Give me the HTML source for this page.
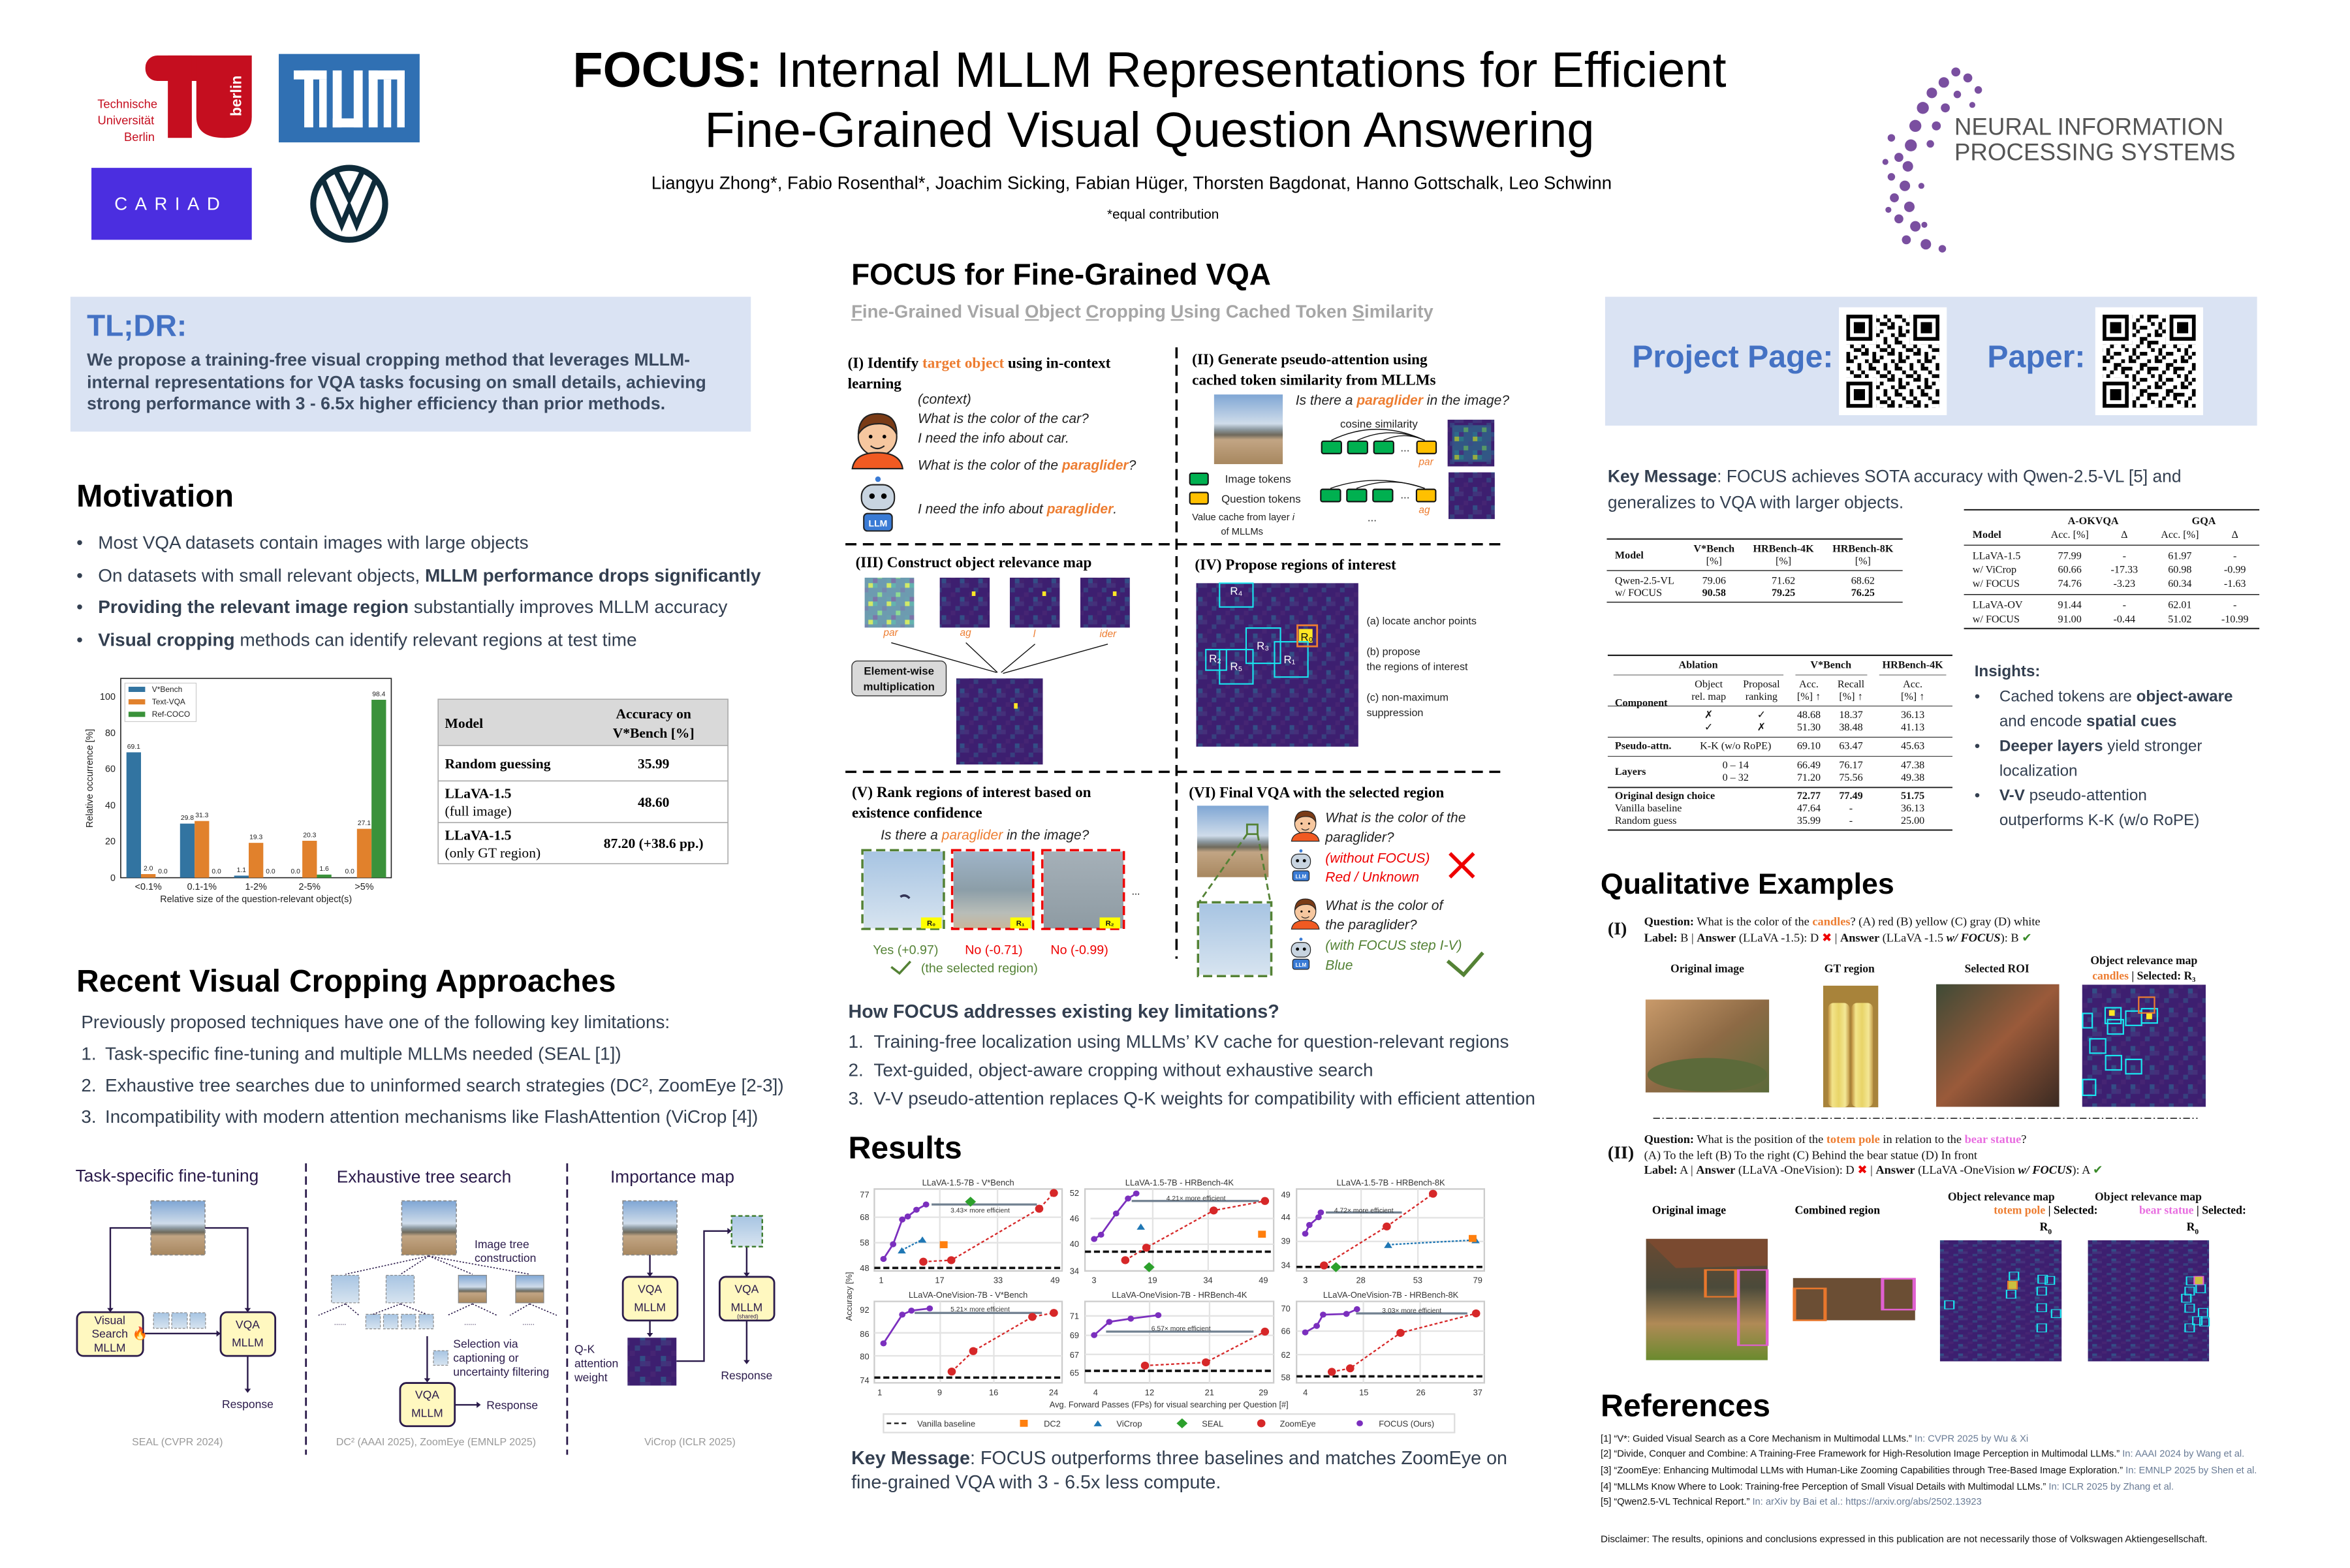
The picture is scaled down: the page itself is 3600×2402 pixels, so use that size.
<!DOCTYPE html>
<html><head><meta charset="utf-8">
<style>
html,body{margin:0;padding:0;background:#fff;}
body{width:3600px;height:2400px;overflow:hidden;position:relative;}
#r{position:absolute;left:0;top:0;width:1568px;height:1046px;transform:scale(2.2959);transform-origin:0 0;font-family:"Liberation Sans",Arial,sans-serif;}
.a{position:absolute;white-space:nowrap;}
.h{font-weight:bold;color:#000;font-size:21px;}
.t{font-size:12.4px;color:#333f50;}
.ser{font-family:"Liberation Serif",serif;}
</style></head><body><div id="r">

<svg width="0" height="0" style="position:absolute">
<defs>
<linearGradient id="beach" x1="0" y1="0" x2="0" y2="1">
<stop offset="0" stop-color="#7fa6d4"/><stop offset="0.42" stop-color="#cfdcea"/><stop offset="0.5" stop-color="#8d9aa2"/><stop offset="0.58" stop-color="#6f6a5c"/><stop offset="0.65" stop-color="#c2a584"/><stop offset="1" stop-color="#a7875f"/></linearGradient>
<linearGradient id="sky" x1="0" y1="0" x2="0" y2="1"><stop offset="0" stop-color="#a7c4e2"/><stop offset="1" stop-color="#d7e4f0"/></linearGradient>
<linearGradient id="sea" x1="0" y1="0" x2="0" y2="1"><stop offset="0" stop-color="#9fb4c8"/><stop offset="0.5" stop-color="#8c9ea8"/><stop offset="0.8" stop-color="#b8bdb8"/><stop offset="1" stop-color="#c8b79a"/></linearGradient>
<linearGradient id="sea2" x1="0" y1="0" x2="0" y2="1"><stop offset="0" stop-color="#a5b0b8"/><stop offset="1" stop-color="#8e9ba3"/></linearGradient>
<linearGradient id="warm" x1="0" y1="0" x2="1" y2="1"><stop offset="0" stop-color="#c99a6a"/><stop offset="0.5" stop-color="#8d6a45"/><stop offset="1" stop-color="#5b6a3a"/></linearGradient>
<linearGradient id="candle" x1="0" y1="0" x2="1" y2="0"><stop offset="0" stop-color="#b98a3a"/><stop offset="0.2" stop-color="#f3e48a"/><stop offset="0.5" stop-color="#e8d468"/><stop offset="0.8" stop-color="#f4e796"/><stop offset="1" stop-color="#c29a48"/></linearGradient>
<linearGradient id="roi" x1="0" y1="0" x2="1" y2="1"><stop offset="0" stop-color="#3e4a36"/><stop offset="0.5" stop-color="#9a5a3a"/><stop offset="1" stop-color="#3a2a22"/></linearGradient>
<linearGradient id="totem" x1="0" y1="0" x2="0" y2="1"><stop offset="0" stop-color="#6a4a32"/><stop offset="0.4" stop-color="#4b4a3a"/><stop offset="0.7" stop-color="#b08a56"/><stop offset="1" stop-color="#6a8a2e"/></linearGradient>
<pattern id="hm" patternUnits="userSpaceOnUse" width="40" height="40">
<rect width="40" height="40" fill="#3d1f70"/><rect x="0" y="0" width="10" height="10" fill="#45307a"/><rect x="20" y="10" width="10" height="10" fill="#37407f"/><rect x="10" y="20" width="10" height="10" fill="#462573"/><rect x="30" y="30" width="10" height="10" fill="#334d86"/><rect x="0" y="30" width="10" height="10" fill="#42226f"/><rect x="30" y="0" width="10" height="10" fill="#3f357c"/></pattern>
<pattern id="hm2" patternUnits="userSpaceOnUse" width="40" height="40">
<rect width="40" height="40" fill="#2d6f8e"/><rect x="0" y="0" width="10" height="10" fill="#21918c"/><rect x="20" y="10" width="10" height="10" fill="#3b528b"/><rect x="10" y="20" width="10" height="10" fill="#5ec962"/><rect x="30" y="30" width="10" height="10" fill="#2a788e"/><rect x="0" y="30" width="10" height="10" fill="#443983"/><rect x="30" y="0" width="10" height="10" fill="#bddf26"/></pattern>
<pattern id="qr" patternUnits="userSpaceOnUse" width="7" height="7">
<rect width="7" height="7" fill="#fff"/><path d="M0 0h1v1h-1zM2 0h2v1h-2zM5 1h1v2h-1zM1 2h2v1h-2zM3 3h1v1h-1zM0 4h1v2h-1zM4 4h2v1h-2zM2 5h1v2h-1zM6 5h1v1h-1zM4 6h1v1h-1zM1 1h1v1h-1zM6 3h1v1h-1z" fill="#000"/></pattern>
</defs></svg>

<!-- ===== HEADER ===== -->
<svg class="a" style="left:55px;top:30px" width="240" height="140" viewBox="55 30 240 140">
<rect x="97" y="37" width="48" height="17" rx="8" fill="#c50e1f"/>
<rect x="112" y="37" width="16" height="55" fill="#c50e1f"/>
<path d="M131 37 H168 V78 Q168 92 150 92 Q131 92 131 78 Z" fill="#c50e1f"/>
<text x="161" y="64" transform="rotate(-90 161 64)" text-anchor="middle" font-size="10" font-weight="bold" fill="#fff" font-family="Liberation Sans">berlin</text>
<text x="85" y="72" text-anchor="middle" font-size="8" fill="#c50e1f" font-family="Liberation Sans">Technische</text>
<text x="84" y="83" text-anchor="middle" font-size="8" fill="#c50e1f" font-family="Liberation Sans">Universität</text>
<text x="93" y="94" text-anchor="middle" font-size="8" fill="#c50e1f" font-family="Liberation Sans">Berlin</text>
<rect x="186" y="36" width="94" height="59" fill="#3070b3"/>
<g fill="#fff"><rect x="196" y="47" width="22" height="6"/><rect x="203" y="47" width="6" height="38"/><rect x="213" y="53" width="5" height="32"/>
<rect x="222" y="47" width="6" height="38"/><rect x="222" y="79" width="20" height="6"/><rect x="236" y="47" width="6" height="38"/>
<rect x="246" y="47" width="24" height="6"/><rect x="246" y="47" width="6" height="38"/><rect x="256" y="53" width="5" height="32"/><rect x="265" y="47" width="5" height="38"/></g>
<rect x="61" y="112" width="107" height="48" fill="#4b2ee0"/>
<text x="114" y="140" text-anchor="middle" font-size="12" fill="#fff" letter-spacing="5" font-family="Liberation Sans">CARIAD</text>
<circle cx="233" cy="136" r="24" fill="#fff" stroke="#0e2b3a" stroke-width="4"/>
<path d="M216 121 L228 150 L233 138 L238 150 L250 121 M224 114 L233 133 L242 114" fill="none" stroke="#0e2b3a" stroke-width="3.5"/>
</svg>
<div class="a" style="left:0;width:1534px;top:27px;text-align:center;font-size:33px;line-height:40px;color:#000;"><b>FOCUS:</b> Internal MLLM Representations for Efficient<br>Fine-Grained Visual Question Answering</div>
<div class="a" style="left:0;width:1510px;top:115px;text-align:center;font-size:12px;color:#000;">Liangyu Zhong*, Fabio Rosenthal*, Joachim Sicking, Fabian Hüger, Thorsten Bagdonat, Hanno Gottschalk, Leo Schwinn</div>
<div class="a" style="left:0;width:1552px;top:138px;text-align:center;font-size:9px;color:#000;">*equal contribution</div>
<svg class="a" style="left:1250px;top:40px" width="80" height="135" viewBox="1250 40 80 135">
<g fill="#7a4fa0">
<circle cx="1305" cy="48" r="3"/><circle cx="1313" cy="52" r="3"/><circle cx="1297" cy="55" r="3.5"/><circle cx="1320" cy="60" r="2.5"/><circle cx="1289" cy="62" r="3.5"/><circle cx="1306" cy="63" r="2.5"/><circle cx="1283" cy="72" r="4"/><circle cx="1298" cy="72" r="3"/><circle cx="1316" cy="70" r="2"/><circle cx="1278" cy="84" r="4"/><circle cx="1292" cy="84" r="3"/><circle cx="1275" cy="97" r="4"/><circle cx="1288" cy="96" r="2.5"/><circle cx="1267" cy="105" r="3"/><circle cx="1273" cy="111" r="3.5"/><circle cx="1262" cy="118" r="2.5"/><circle cx="1271" cy="124" r="3.5"/><circle cx="1264" cy="132" r="3"/><circle cx="1274" cy="138" r="3.5"/><circle cx="1267" cy="146" r="3"/><circle cx="1278" cy="151" r="3.5"/><circle cx="1272" cy="160" r="3"/><circle cx="1285" cy="163" r="3.5"/><circle cx="1296" cy="166" r="2.5"/><circle cx="1284" cy="150" r="2"/><circle cx="1262" cy="92" r="2.5"/><circle cx="1258" cy="108" r="2"/><circle cx="1282" cy="124" r="2"/><circle cx="1260" cy="140" r="2"/></g></svg>
<div class="a" style="left:1304px;top:77px;font-size:16px;line-height:17px;color:#555;">NEURAL INFORMATION<br>PROCESSING SYSTEMS</div>

<!-- ===== TL;DR ===== -->
<div class="a" style="left:47px;top:198px;width:454px;height:90px;background:#dae3f3;"></div>
<div class="a" style="left:58px;top:207px;font-size:20px;font-weight:bold;color:#4472c4;">TL;DR:</div>
<div class="a" style="left:58px;top:234px;font-size:11.6px;line-height:14.5px;font-weight:bold;color:#3b4a60;">We propose a training-free visual cropping method that leverages MLLM-<br>internal representations for VQA tasks focusing on small details, achieving<br>strong performance with 3 - 6.5x higher efficiency than prior methods.</div>

<!-- ===== MOTIVATION ===== -->
<div class="a h" style="left:51px;top:320px;">Motivation</div>
<div class="a t" style="left:51px;top:352px;line-height:21.6px;font-size:12.2px;">•&nbsp;&nbsp;&nbsp;Most VQA datasets contain images with large objects<br>•&nbsp;&nbsp;&nbsp;On datasets with small relevant objects, <b>MLLM performance drops significantly</b><br>•&nbsp;&nbsp;&nbsp;<b>Providing the relevant image region</b> substantially improves MLLM accuracy<br>•&nbsp;&nbsp;&nbsp;<b>Visual cropping</b> methods can identify relevant regions at test time</div>

<!-- ===== LEFT: chart + table + recent approaches (zoom3 coords) ===== -->
<svg class="a" style="left:0;top:435.6px" width="544.4" height="544.4" viewBox="0 0 1568 1568" font-family="Liberation Sans">
<rect x="232" y="48" width="520" height="383" fill="#fff" stroke="#222" stroke-width="2"/>
<g font-size="18" text-anchor="end" fill="#222"><text x="222" y="437">0</text><text x="222" y="367">20</text><text x="222" y="298">40</text><text x="222" y="228">60</text><text x="222" y="159">80</text><text x="222" y="89">100</text></g>
<g fill="#3274a1"><rect x="243" y="190" width="28" height="241"/><rect x="346" y="327" width="28" height="104"/><rect x="450" y="427" width="28" height="4"/></g>
<g fill="#e1812c"><rect x="271" y="424" width="28" height="7"/><rect x="374" y="322" width="28" height="109"/><rect x="478" y="364" width="28" height="67"/><rect x="581" y="360" width="28" height="71"/><rect x="686" y="337" width="28" height="94"/></g>
<g fill="#3a923a"><rect x="609" y="425" width="28" height="6"/><rect x="714" y="89" width="28" height="342"/></g>
<g font-size="13" text-anchor="middle" fill="#222"><text x="257" y="183">69.1</text><text x="285" y="417">2.0</text><text x="313" y="423">0.0</text><text x="360" y="320">29.8</text><text x="388" y="315">31.3</text><text x="416" y="423">0.0</text><text x="464" y="420">1.1</text><text x="492" y="357">19.3</text><text x="520" y="423">0.0</text><text x="568" y="423">0.0</text><text x="595" y="353">20.3</text><text x="623" y="418">1.6</text><text x="672" y="423">0.0</text><text x="700" y="330">27.1</text><text x="728" y="82">98.4</text></g>
<rect x="240" y="57" width="137" height="74" fill="#fff" stroke="#ccc" stroke-width="1.5"/>
<rect x="247" y="64" width="32" height="10" fill="#3274a1"/><rect x="247" y="88" width="32" height="10" fill="#e1812c"/><rect x="247" y="112" width="32" height="10" fill="#3a923a"/>
<g font-size="15" fill="#222"><text x="292" y="74">V*Bench</text><text x="292" y="98">Text-VQA</text><text x="292" y="122">Ref-COCO</text></g>
<g font-size="18" text-anchor="middle" fill="#222"><text x="285" y="454">&lt;0.1%</text><text x="388" y="454">0.1-1%</text><text x="492" y="454">1-2%</text><text x="595" y="454">2-5%</text><text x="700" y="454">&gt;5%</text>
<text x="492" y="478">Relative size of the question-relevant object(s)</text>
<text x="0" y="0" transform="translate(178 240) rotate(-90)">Relative occurrence [%]</text></g>
<!-- table -->
<rect x="842" y="88" width="557" height="89" fill="#d9d9d9"/>
<rect x="842" y="88" width="557" height="316" fill="none" stroke="#aaa" stroke-width="2"/>
<g stroke="#aaa" stroke-width="2"><line x1="842" y1="177" x2="1399" y2="177"/><line x1="842" y1="245" x2="1399" y2="245"/><line x1="842" y1="325" x2="1399" y2="325"/></g>
<g font-family="Liberation Serif" font-size="27" fill="#000">
<text x="855" y="143" font-weight="bold">Model</text>
<text x="1256" y="125" font-weight="bold" text-anchor="middle">Accuracy on</text><text x="1256" y="162" font-weight="bold" text-anchor="middle">V*Bench [%]</text>
<text x="855" y="221" font-weight="bold">Random guessing</text><text x="1256" y="221" font-weight="bold" text-anchor="middle">35.99</text>
<text x="855" y="278" font-weight="bold">LLaVA-1.5</text><text x="855" y="312">(full image)</text><text x="1256" y="295" font-weight="bold" text-anchor="middle">48.60</text>
<text x="855" y="358" font-weight="bold">LLaVA-1.5</text><text x="855" y="392">(only GT region)</text><text x="1256" y="374" font-weight="bold" text-anchor="middle">87.20 (+38.6 pp.)</text></g>
<!-- Recent approaches -->
<text x="147" y="650" font-size="60" font-weight="bold" fill="#000">Recent Visual Cropping Approaches</text>
<g font-size="35" fill="#333f50"><text x="156" y="720">Previously proposed techniques have one of the following key limitations:</text>
<text x="156" y="781">1.</text><text x="202" y="781">Task-specific fine-tuning and multiple MLLMs needed (SEAL [1])</text>
<text x="156" y="842">2.</text><text x="202" y="842">Exhaustive tree searches due to uninformed search strategies (DC², ZoomEye [2-3])</text>
<text x="156" y="902">3.</text><text x="202" y="902">Incompatibility with modern attention mechanisms like FlashAttention (ViCrop [4])</text></g>
<g stroke="#2a1a4a" stroke-width="3.5" stroke-dasharray="16 9"><line x1="588" y1="980" x2="588" y2="1540"/><line x1="1090" y1="980" x2="1090" y2="1540"/></g>
<g font-size="33" fill="#2a1a4a"><text x="145" y="1015">Task-specific fine-tuning</text><text x="647" y="1017">Exhaustive tree search</text><text x="1173" y="1017">Importance map</text></g>
<g fill="url(#beach)" stroke="#888" stroke-width="2" stroke-dasharray="6 4"><rect x="290" y="1052" width="104" height="104"/><rect x="772" y="1052" width="105" height="104"/><rect x="1197" y="1052" width="104" height="104"/></g>
<g stroke="#2a1a4a" stroke-width="3" fill="none"><path d="M290 1104 H212 V1260"/><path d="M394 1104 H476 V1260"/><path d="M275 1307 H418"/><path d="M476 1350 V1415"/><path d="M821 1312 V1395"/><path d="M874 1444 H918"/><path d="M1249 1156 V1192"/><path d="M1249 1282 V1308"/><path d="M1300 1360 H1353 V1110 H1400"/><path d="M1435 1140 V1192"/><path d="M1435 1282 V1360"/></g>
<g fill="#2a1a4a"><path d="M206 1258 L212 1266 L218 1258Z"/><path d="M470 1258 L476 1266 L482 1258Z"/><path d="M416 1301 L424 1307 L416 1313Z"/><path d="M470 1413 L476 1421 L482 1413Z"/><path d="M815 1393 L821 1401 L827 1393Z"/><path d="M916 1438 L924 1444 L916 1450Z"/><path d="M1243 1190 L1249 1198 L1255 1190Z"/><path d="M1243 1306 L1249 1314 L1255 1306Z"/><path d="M1398 1104 L1406 1110 L1398 1116Z"/><path d="M1429 1190 L1435 1198 L1441 1190Z"/><path d="M1429 1358 L1435 1366 L1441 1358Z"/></g>
<g fill="#fff8c0" stroke="#2a1a4a" stroke-width="3.5"><rect x="148" y="1266" width="127" height="84" rx="12"/><rect x="424" y="1266" width="105" height="84" rx="12"/><rect x="769" y="1402" width="105" height="83" rx="12"/><rect x="1197" y="1198" width="105" height="84" rx="12"/><rect x="1383" y="1198" width="105" height="84" rx="12"/></g>
<g font-size="22" fill="#2a1a4a" text-anchor="middle"><text x="211" y="1289">Visual</text><text x="211" y="1315">Search</text><text x="211" y="1342">MLLM</text><text x="476" y="1297">VQA</text><text x="476" y="1332">MLLM</text>
<text x="821" y="1432">VQA</text><text x="821" y="1467">MLLM</text><text x="1249" y="1229">VQA</text><text x="1249" y="1264">MLLM</text><text x="1435" y="1229">VQA</text><text x="1435" y="1264">MLLM</text><text x="1437" y="1278" font-size="11">(shared)</text>
<text x="476" y="1450">Response</text><text x="1435" y="1395">Response</text></g>
<g font-size="22" fill="#2a1a4a"><text x="935" y="1452">Response</text><text x="912" y="1143">Image tree</text><text x="912" y="1169">construction</text><text x="871" y="1334">Selection via</text><text x="871" y="1361">captioning or</text><text x="871" y="1388">uncertainty filtering</text><text x="1104" y="1344">Q-K</text><text x="1104" y="1372">attention</text><text x="1104" y="1399">weight</text></g>
<g fill="url(#sky)" stroke="#888" stroke-width="1.5" stroke-dasharray="5 3"><rect x="295" y="1267" width="30" height="30"/><rect x="330" y="1267" width="30" height="30"/><rect x="365" y="1267" width="30" height="30"/><rect x="637" y="1195" width="53" height="53"/><rect x="742" y="1195" width="54" height="53"/><rect x="703" y="1270" width="28" height="28"/><rect x="737" y="1270" width="28" height="28"/><rect x="771" y="1270" width="28" height="28"/><rect x="805" y="1270" width="28" height="28"/><rect x="833" y="1340" width="28" height="28"/></g>
<g fill="url(#beach)" stroke="#888" stroke-width="1.5"><rect x="881" y="1195" width="54" height="53"/><rect x="991" y="1195" width="54" height="53"/></g>
<rect x="1406" y="1081" width="59" height="59" fill="url(#sky)" stroke="#3a7a2a" stroke-width="3" stroke-dasharray="8 5"/>
<rect x="1206" y="1315" width="94" height="92" fill="url(#hm)"/>
<g stroke="#2a1a4a" stroke-width="2" stroke-dasharray="3 3" fill="none"><path d="M824 1158 L664 1193 M824 1158 L770 1193 M824 1158 L908 1193 M824 1158 L1018 1193 M664 1250 L612 1272 M664 1250 L690 1272 M770 1250 L717 1270 M770 1250 L820 1270 M908 1250 L860 1272 M908 1250 L955 1272 M1018 1250 L980 1272 M1018 1250 L1070 1272"/></g>
<g font-size="14" fill="#2a1a4a"><text x="642" y="1290">......</text><text x="892" y="1290">......</text><text x="1004" y="1290">......</text></g>
<g font-size="20" fill="#999" text-anchor="middle"><text x="341" y="1522">SEAL (CVPR 2024)</text><text x="838" y="1522">DC² (AAAI 2025), ZoomEye (EMNLP 2025)</text><text x="1326" y="1522">ViCrop (ICLR 2025)</text></g>
<g font-size="24" fill="#e8772c"><text x="254" y="1315">🔥</text></g>
</svg>

<!-- ===== MIDDLE ===== -->
<div class="a" style="left:568px;top:173px;font-size:20px;font-weight:bold;color:#000;">FOCUS for Fine-Grained VQA</div>
<div class="a" style="left:568px;top:201px;font-size:12px;font-weight:bold;color:#a6a6a6;"><u>F</u>ine-Grained Visual <u>O</u>bject <u>C</u>ropping <u>U</u>sing Cached Token <u>S</u>imilarity</div>

<svg class="a" style="left:557.5px;top:217.8px" width="479.1" height="479.1" viewBox="0 0 1568 1568" font-family="Liberation Sans">
<g stroke="#000" stroke-width="5" stroke-dasharray="24 14"><line x1="743" y1="45" x2="743" y2="1380"/><line x1="20" y1="475" x2="1450" y2="475"/><line x1="20" y1="972" x2="1450" y2="972"/></g>
<g font-family="Liberation Serif" font-weight="bold" font-size="33" fill="#000">
<text x="25" y="90">(I) Identify <tspan fill="#ed7d31">target object</tspan> using in-context</text><text x="25" y="135">learning</text>
<text x="777" y="82">(II) Generate pseudo-attention using</text><text x="777" y="127">cached token similarity from MLLMs</text>
<text x="42" y="525">(III) Construct object relevance map</text>
<text x="783" y="530">(IV) Propose regions of interest</text>
<text x="34" y="1027">(V) Rank regions of interest based on</text><text x="34" y="1072">existence confidence</text>
<text x="770" y="1028">(VI) Final VQA with the selected region</text></g>
<g font-size="30" font-style="italic" fill="#222">
<text x="178" y="168">(context)</text><text x="178" y="210">What is the color of the car?</text><text x="178" y="253">I need the info about car.</text>
<text x="178" y="312">What is the color of the <tspan fill="#ed7d31" font-weight="bold">paraglider</tspan>?</text>
<text x="178" y="408">I need the info about <tspan fill="#ed7d31" font-weight="bold">paraglider</tspan>.</text>
<text x="1003" y="170">Is there a <tspan fill="#ed7d31" font-weight="bold">paraglider</tspan> in the image?</text>
<text x="97" y="1120">Is there a <tspan fill="#ed7d31">paraglider</tspan> in the image?</text>
<text x="1068" y="1082">What is the color of the</text><text x="1068" y="1125">paraglider?</text>
<text x="1068" y="1170" fill="#e00">(without FOCUS)</text><text x="1068" y="1212" fill="#e00">Red / Unknown</text>
<text x="1068" y="1274">What is the color of</text><text x="1068" y="1316">the paraglider?</text>
<text x="1068" y="1361" fill="#548235">(with FOCUS step I-V)</text><text x="1068" y="1404" fill="#548235">Blue</text></g>
<!-- person/robot icons -->
<g id="person"><circle cx="90" cy="240" r="42" fill="#f6c79f" stroke="#222" stroke-width="3"/><path d="M48 235 Q50 190 90 190 Q132 190 132 235 Q120 210 90 212 Q62 212 48 235Z" fill="#7a3b16" stroke="#222" stroke-width="3"/><path d="M35 310 Q40 275 90 275 Q140 275 145 310Z" fill="#f15a22" stroke="#222" stroke-width="3"/><circle cx="75" cy="240" r="4"/><circle cx="105" cy="240" r="4"/><path d="M75 260 Q90 272 105 260" fill="none" stroke="#222" stroke-width="3"/></g>
<g id="robot"><rect x="55" y="345" width="72" height="55" rx="25" fill="#c8d4e0" stroke="#222" stroke-width="3"/><circle cx="91" cy="333" r="6" fill="#3a7bd5"/><circle cx="78" cy="370" r="6"/><circle cx="104" cy="370" r="6"/><rect x="60" y="408" width="62" height="38" rx="8" fill="#3a7bd5" stroke="#222" stroke-width="3"/><text x="91" y="436" font-size="20" font-weight="bold" fill="#fff" text-anchor="middle">LLM</text></g>
<use href="#person" transform="translate(994 1052) scale(0.55) translate(-35 -180)"/>
<use href="#person" transform="translate(994 1244) scale(0.55) translate(-35 -180)"/>
<use href="#robot" transform="translate(988 1140) scale(0.58) translate(-45 -325)"/>
<use href="#robot" transform="translate(988 1333) scale(0.58) translate(-45 -325)"/>
<!-- II -->
<rect x="825" y="148" width="150" height="152" fill="url(#beach)"/>
<g font-size="24" fill="#222"><text x="1185" y="220" text-anchor="middle">cosine similarity</text><text x="849" y="341">Image tokens</text><text x="841" y="384">Question tokens</text><text x="777" y="423" font-size="21">Value cache from layer <tspan font-style="italic">i</tspan></text><text x="840" y="454" font-size="21">of MLLMs</text><text x="1160" y="425">...</text><text x="1232" y="272">...</text><text x="1232" y="375">...</text></g>
<g fill="#00b050" stroke="#111" stroke-width="3"><rect x="1060" y="250" width="43" height="27" rx="4"/><rect x="1117" y="250" width="43" height="27" rx="4"/><rect x="1174" y="250" width="43" height="27" rx="4"/><rect x="1058" y="355" width="43" height="27" rx="4"/><rect x="1115" y="355" width="43" height="27" rx="4"/><rect x="1172" y="355" width="43" height="27" rx="4"/><rect x="772" y="320" width="40" height="25" rx="4"/></g>
<g fill="#ffc000" stroke="#111" stroke-width="3"><rect x="1268" y="250" width="42" height="27" rx="4"/><rect x="1267" y="355" width="42" height="27" rx="4"/><rect x="772" y="362" width="40" height="25" rx="4"/></g>
<g fill="none" stroke="#111" stroke-width="2"><path d="M1081 248 Q1180 200 1285 248"/><path d="M1138 248 Q1210 215 1285 248"/><path d="M1195 248 Q1240 228 1285 248"/><path d="M1079 353 Q1180 318 1285 353"/><path d="M1136 353 Q1210 325 1285 353"/></g>
<g font-size="22" font-style="italic" fill="#ed7d31"><text x="1272" y="302">par</text><text x="1272" y="407">ag</text><text x="103" y="675">par</text><text x="270" y="675">ag</text><text x="430" y="678">l</text><text x="575" y="678">ider</text></g>
<g fill="url(#hm)"><rect x="1335" y="203" width="102" height="102"/><rect x="1337" y="318" width="101" height="102"/><rect x="226" y="548" width="109" height="109"/><rect x="379" y="548" width="109" height="109"/><rect x="533" y="548" width="108" height="109"/><rect x="262" y="768" width="189" height="188"/><rect x="786" y="560" width="354" height="357"/></g>
<g fill="url(#hm2)" opacity="0.7"><rect x="1345" y="215" width="85" height="80"/><rect x="62" y="548" width="108" height="109"/></g>
<g fill="#fde725"><rect x="296" y="578" width="8" height="10"/><rect x="450" y="578" width="8" height="10"/><rect x="604" y="578" width="8" height="10"/><rect x="388" y="822" width="8" height="12"/><rect x="1010" y="660" width="30" height="30"/></g>
<g fill="none" stroke="#111" stroke-width="2"><path d="M120 690 L350 755 M283 690 L352 755 M434 693 L360 755 M593 693 L364 757"/></g>
<rect x="34" y="730" width="206" height="76" rx="12" fill="#d9d9d9" stroke="#333" stroke-width="2"/>
<g font-size="24" font-weight="bold" fill="#111" text-anchor="middle"><text x="137" y="760">Element-wise</text><text x="137" y="794">multiplication</text></g>
<!-- IV boxes -->
<g fill="none" stroke="#19e6f0" stroke-width="3"><rect x="837" y="560" width="73" height="52"/><rect x="895" y="658" width="75" height="77"/><rect x="957" y="688" width="73" height="77"/><rect x="807" y="705" width="45" height="45"/><rect x="837" y="705" width="73" height="75"/></g>
<rect x="1007" y="652" width="43" height="46" fill="none" stroke="#ed7d31" stroke-width="4"/>
<g font-size="24" fill="#fff"><text x="860" y="585">R₄</text><text x="918" y="705">R₃</text><text x="977" y="735">R₁</text><text x="814" y="733">R₂</text><text x="860" y="750">R₅</text><text x="1014" y="686" fill="#111">R₀</text></g>
<g font-size="23" fill="#222"><text x="1158" y="650">(a) locate anchor points</text><text x="1158" y="717">(b) propose</text><text x="1158" y="750">the regions of interest</text><text x="1158" y="817">(c) non-maximum</text><text x="1158" y="850">suppression</text></g>
<!-- V -->
<rect x="60" y="1146" width="175" height="168" fill="url(#sky)"/>
<rect x="256" y="1146" width="174" height="168" fill="url(#sea)"/>
<rect x="453" y="1146" width="174" height="168" fill="url(#sea2)"/>
<rect x="57" y="1143" width="178" height="172" fill="none" stroke="#548235" stroke-width="5" stroke-dasharray="20 10"/>
<rect x="253" y="1143" width="177" height="172" fill="none" stroke="#e00" stroke-width="5" stroke-dasharray="20 10"/>
<rect x="450" y="1143" width="178" height="172" fill="none" stroke="#e00" stroke-width="5" stroke-dasharray="20 10"/>
<g fill="#ff0"><rect x="185" y="1290" width="45" height="24"/><rect x="380" y="1290" width="45" height="24"/><rect x="575" y="1290" width="45" height="24"/></g>
<g font-size="16" font-weight="bold" fill="#111"><text x="198" y="1308">R₀</text><text x="393" y="1308">R₁</text><text x="588" y="1308">R₂</text></g>
<path d="M140 1245 Q150 1238 160 1248" stroke="#335" stroke-width="5" fill="none"/>
<text x="645" y="1240" font-size="22">...</text>
<g font-size="28"><text x="80" y="1370" fill="#548235">Yes (+0.97)</text><text x="281" y="1370" fill="#e00">No (-0.71)</text><text x="468" y="1370" fill="#e00">No (-0.99)</text><text x="185" y="1410" fill="#548235">(the selected region)</text></g>
<path d="M120 1398 L138 1412 L162 1386" stroke="#548235" stroke-width="5" fill="none"/>
<!-- VI -->
<rect x="788" y="1046" width="156" height="156" fill="url(#beach)"/>
<rect x="897" y="1087" width="23" height="21" fill="none" stroke="#548235" stroke-width="4"/>
<g stroke="#548235" stroke-width="4" stroke-dasharray="14 8"><line x1="897" y1="1108" x2="792" y2="1257"/><line x1="920" y1="1108" x2="948" y2="1257"/></g>
<rect x="793" y="1260" width="155" height="155" fill="url(#sky)"/>
<rect x="790" y="1257" width="160" height="161" fill="none" stroke="#548235" stroke-width="5" stroke-dasharray="20 10"/>
<path d="M1340 1150 L1392 1202 M1392 1150 L1340 1202" stroke="#e00" stroke-width="8"/>
<path d="M1335 1385 L1370 1415 L1412 1367" stroke="#548235" stroke-width="8" fill="none"/>
</svg>
<div class="a" style="left:566px;top:668px;font-size:12.5px;font-weight:bold;color:#333f50;">How FOCUS addresses existing key limitations?</div>
<div class="a t" style="left:566px;top:686px;line-height:18.8px;font-size:12.2px;">1.&nbsp;&nbsp;Training-free localization using MLLMs’ KV cache for question-relevant regions<br>2.&nbsp;&nbsp;Text-guided, object-aware cropping without exhaustive search<br>3.&nbsp;&nbsp;V-V pseudo-attention replaces Q-K weights for compatibility with efficient attention</div>
<div class="a h" style="left:566px;top:755px;">Results</div>

<!-- plots -->
<svg class="a" style="left:561.9px;top:757.9px" width="479.1" height="261.3" viewBox="0 0 479.1 261.3" font-family="Liberation Sans">
<g transform="scale(0.30556 0.16667)">
<g fill="#fff" stroke="#ccc">
<rect x="70" y="212" width="410" height="328" vector-effect="non-scaling-stroke"/><rect x="530" y="212" width="412" height="328" vector-effect="non-scaling-stroke"/><rect x="992" y="212" width="410" height="328" vector-effect="non-scaling-stroke"/>
<rect x="70" y="662" width="410" height="326" vector-effect="non-scaling-stroke"/><rect x="530" y="662" width="412" height="326" vector-effect="non-scaling-stroke"/><rect x="992" y="662" width="410" height="326" vector-effect="non-scaling-stroke"/></g>
<g stroke="#e3e3e3">
<path d="M70 325H480M70 427H480M542 330H942M542 433H942M992 327H1402M992 422H1402M70 788H480M70 880H480M530 720H942M530 798H942M530 874H942M992 781H1402M992 875H1402M213 212V540M339 212V540M678 212V540M799 212V540M1133 212V540M1257 212V540M214 662V988M331 662V988M671 662V988M802 662V988M1138 662V988M1262 662V988" vector-effect="non-scaling-stroke"/></g>
<g stroke="#111" stroke-width="1.6" stroke-dasharray="4 2"><path d="M70 528H480M530 463H942M992 524H1402M70 967H480M530 940H942M992 962H1402" vector-effect="non-scaling-stroke"/></g>
<g stroke="#708090" stroke-width="1.4" fill="none"><path d="M425 274H195M910 260H632M1222 306H1056M436 708H158M898 783H576M1365 710H1122" vector-effect="non-scaling-stroke"/></g>
<g fill="none" stroke="#d62728" stroke-width="1" stroke-dasharray="2 1.5">
<polyline points="177,503 238,497 430,291 462,228" vector-effect="non-scaling-stroke"/><polyline points="618,497 664,447 811,298 923,260" vector-effect="non-scaling-stroke"/><polyline points="1052,518 1189,362 1290,231" vector-effect="non-scaling-stroke"/><polyline points="239,943 286,861 415,724 462,708" vector-effect="non-scaling-stroke"/><polyline points="661,919 794,906 923,783" vector-effect="non-scaling-stroke"/><polyline points="1069,944 1109,930 1219,788 1384,710" vector-effect="non-scaling-stroke"/></g>
<g fill="none" stroke="#1f77b4" stroke-width="1" stroke-dasharray="1.5 1"><polyline points="130,457 175,414" vector-effect="non-scaling-stroke"/><polyline points="1192,435 1383,416" vector-effect="non-scaling-stroke"/></g>
<g fill="none" stroke="#7b2fbe" stroke-width="1.2">
<polyline points="90,492 111,433 131,334 143,322 162,295 183,274" vector-effect="non-scaling-stroke"/><polyline points="550,412 565,395 598,310 624,250 642,230" vector-effect="non-scaling-stroke"/><polyline points="1011,391 1020,356 1040,325 1045,306" vector-effect="non-scaling-stroke"/><polyline points="90,830 131,715 151,699 191,690" vector-effect="non-scaling-stroke"/><polyline points="550,797 583,744 630,731 690,717" vector-effect="non-scaling-stroke"/><polyline points="1011,786 1036,760 1050,715 1101,712 1124,693" vector-effect="non-scaling-stroke"/></g>
<g fill="#d62728"><ellipse cx="177" cy="503" rx="9" ry="16"/><ellipse cx="238" cy="497" rx="9" ry="16"/><ellipse cx="430" cy="291" rx="9" ry="16"/><ellipse cx="462" cy="228" rx="9" ry="16"/><ellipse cx="618" cy="497" rx="9" ry="16"/><ellipse cx="664" cy="447" rx="9" ry="16"/><ellipse cx="811" cy="298" rx="9" ry="16"/><ellipse cx="923" cy="260" rx="9" ry="16"/><ellipse cx="1052" cy="518" rx="9" ry="16"/><ellipse cx="1189" cy="362" rx="9" ry="16"/><ellipse cx="1290" cy="231" rx="9" ry="16"/><ellipse cx="239" cy="943" rx="9" ry="16"/><ellipse cx="286" cy="861" rx="9" ry="16"/><ellipse cx="415" cy="724" rx="9" ry="16"/><ellipse cx="462" cy="708" rx="9" ry="16"/><ellipse cx="661" cy="919" rx="9" ry="16"/><ellipse cx="794" cy="906" rx="9" ry="16"/><ellipse cx="923" cy="783" rx="9" ry="16"/><ellipse cx="1069" cy="944" rx="9" ry="16"/><ellipse cx="1109" cy="930" rx="9" ry="16"/><ellipse cx="1219" cy="788" rx="9" ry="16"/><ellipse cx="1384" cy="710" rx="9" ry="16"/></g>
<g fill="#7b2fbe"><ellipse cx="90" cy="492" rx="7" ry="12"/><ellipse cx="111" cy="433" rx="7" ry="12"/><ellipse cx="131" cy="334" rx="7" ry="12"/><ellipse cx="143" cy="322" rx="7" ry="12"/><ellipse cx="162" cy="295" rx="7" ry="12"/><ellipse cx="183" cy="274" rx="7" ry="12"/><ellipse cx="550" cy="412" rx="7" ry="12"/><ellipse cx="565" cy="395" rx="7" ry="12"/><ellipse cx="598" cy="310" rx="7" ry="12"/><ellipse cx="624" cy="250" rx="7" ry="12"/><ellipse cx="642" cy="230" rx="7" ry="12"/><ellipse cx="1011" cy="391" rx="7" ry="12"/><ellipse cx="1020" cy="356" rx="7" ry="12"/><ellipse cx="1040" cy="325" rx="7" ry="12"/><ellipse cx="1045" cy="306" rx="7" ry="12"/><ellipse cx="90" cy="830" rx="7" ry="12"/><ellipse cx="131" cy="715" rx="7" ry="12"/><ellipse cx="151" cy="699" rx="7" ry="12"/><ellipse cx="191" cy="690" rx="7" ry="12"/><ellipse cx="550" cy="797" rx="7" ry="12"/><ellipse cx="583" cy="744" rx="7" ry="12"/><ellipse cx="630" cy="731" rx="7" ry="12"/><ellipse cx="690" cy="717" rx="7" ry="12"/><ellipse cx="1011" cy="786" rx="7" ry="12"/><ellipse cx="1036" cy="760" rx="7" ry="12"/><ellipse cx="1050" cy="715" rx="7" ry="12"/><ellipse cx="1101" cy="712" rx="7" ry="12"/><ellipse cx="1124" cy="693" rx="7" ry="12"/></g>
<g fill="#1f77b4"><path d="M130 445 L139 470 L121 470Z"/><path d="M175 402 L184 427 L166 427Z"/><path d="M652 350 L661 375 L643 375Z"/><path d="M1192 423 L1201 448 L1183 448Z"/><path d="M1383 404 L1392 429 L1374 429Z"/></g>
<g fill="#ff7f0e"><rect x="213" y="421" width="17" height="28"/><rect x="908" y="379" width="17" height="28"/><rect x="1368" y="396" width="17" height="28"/></g>
<g fill="#2ca02c"><path d="M280 243 L292 263 L280 283 L268 263Z"/><path d="M670 505 L682 525 L670 545 L658 525Z"/><path d="M1078 505 L1090 525 L1078 545 L1066 525Z"/></g>
<rect x="90" y="1113" width="1247" height="74" fill="#fff" stroke="#ddd" vector-effect="non-scaling-stroke"/>
<path d="M97 1150H145" stroke="#111" stroke-dasharray="3 2" vector-effect="non-scaling-stroke"/>
<rect x="388" y="1136" width="17" height="28" fill="#ff7f0e"/><path d="M558 1138 L567 1162 L549 1162Z" fill="#1f77b4"/><path d="M742 1130 L754 1150 L742 1170 L730 1150Z" fill="#2ca02c"/><ellipse cx="915" cy="1150" rx="9" ry="16" fill="#d62728"/><ellipse cx="1130" cy="1150" rx="7" ry="12" fill="#7b2fbe"/>
</g>
<g font-size="5.6" fill="#333" text-anchor="middle"><text x="84" y="33">LLaVA-1.5-7B - V*Bench</text><text x="225" y="33">LLaVA-1.5-7B - HRBench-4K</text><text x="366" y="33">LLaVA-1.5-7B - HRBench-8K</text><text x="84" y="108">LLaVA-OneVision-7B - V*Bench</text><text x="225" y="108">LLaVA-OneVision-7B - HRBench-4K</text><text x="366" y="108">LLaVA-OneVision-7B - HRBench-8K</text>
<text x="92" y="51" font-size="4.5">3.43× more efficient</text><text x="236" y="43" font-size="4.5">4.21× more efficient</text><text x="348" y="51" font-size="4.5">4.72× more efficient</text><text x="92" y="117" font-size="4.5">5.21× more efficient</text><text x="226" y="130" font-size="4.5">6.57× more efficient</text><text x="380" y="118" font-size="4.5">3.03× more efficient</text></g>
<g font-size="5.6" fill="#333" text-anchor="end">
<text x="18" y="41">77</text><text x="18" y="56">68</text><text x="18" y="73">58</text><text x="18" y="90">48</text>
<text x="158" y="40">52</text><text x="158" y="57">46</text><text x="158" y="74">40</text><text x="158" y="92">34</text>
<text x="299" y="41">49</text><text x="299" y="56">44</text><text x="299" y="72">39</text><text x="299" y="88">34</text>
<text x="18" y="118">92</text><text x="18" y="134">86</text><text x="18" y="149">80</text><text x="18" y="165">74</text>
<text x="158" y="122">71</text><text x="158" y="135">69</text><text x="158" y="148">67</text><text x="158" y="160">65</text>
<text x="299" y="117">70</text><text x="299" y="132">66</text><text x="299" y="148">62</text><text x="299" y="163">58</text></g>
<g font-size="5.6" fill="#333" text-anchor="middle">
<text x="26" y="98">1</text><text x="65" y="98">17</text><text x="104" y="98">33</text><text x="142" y="98">49</text>
<text x="168" y="98">3</text><text x="207" y="98">19</text><text x="244" y="98">34</text><text x="281" y="98">49</text>
<text x="309" y="98">3</text><text x="346" y="98">28</text><text x="384" y="98">53</text><text x="424" y="98">79</text>
<text x="25" y="173">1</text><text x="65" y="173">9</text><text x="101" y="173">16</text><text x="141" y="173">24</text>
<text x="169" y="173">4</text><text x="205" y="173">12</text><text x="245" y="173">21</text><text x="281" y="173">29</text>
<text x="309" y="173">4</text><text x="348" y="173">15</text><text x="386" y="173">26</text><text x="424" y="173">37</text>
<text x="218" y="181">Avg. Forward Passes (FPs) for visual searching per Question [#]</text>
<text x="0" y="0" transform="translate(6.5 107) rotate(-90)">Accuracy [%]</text></g>
<g font-size="5.6" fill="#333"><text x="50" y="194">Vanilla baseline</text><text x="134.5" y="194">DC2</text><text x="183" y="194">ViCrop</text><text x="240" y="194">SEAL</text><text x="292" y="194">ZoomEye</text><text x="358" y="194">FOCUS (Ours)</text></g>
</svg>
<div class="a" style="left:568px;top:965px;font-size:12.5px;line-height:16px;color:#333f50;"><b>Key Message</b>: FOCUS outperforms three baselines and matches ZoomEye on<br>fine-grained VQA with 3 - 6.5x less compute.</div>

<!-- ===== RIGHT ===== -->
<div class="a" style="left:1071px;top:198px;width:435px;height:86px;background:#dae3f3;"></div>
<div class="a" style="left:1089px;top:227px;font-size:21px;font-weight:bold;color:#4472c4;">Project Page:</div>
<div class="a" style="left:1326px;top:227px;font-size:21px;font-weight:bold;color:#4472c4;">Paper:</div>
<svg class="a" style="left:1227px;top:205px" width="72" height="72" viewBox="0 0 29 29"><rect width="29" height="29" fill="#fff"/>
<rect x="2" y="2" width="25" height="25" fill="url(#qr)"/>
<g fill="#fff"><rect x="1" y="1" width="9" height="9"/><rect x="19" y="1" width="9" height="9"/><rect x="1" y="19" width="9" height="9"/></g>
<g fill="#000"><rect x="2" y="2" width="7" height="7"/><rect x="20" y="2" width="7" height="7"/><rect x="2" y="20" width="7" height="7"/></g>
<g fill="#fff"><rect x="3" y="3" width="5" height="5"/><rect x="21" y="3" width="5" height="5"/><rect x="3" y="21" width="5" height="5"/></g>
<g fill="#000"><rect x="4" y="4" width="3" height="3"/><rect x="22" y="4" width="3" height="3"/><rect x="4" y="22" width="3" height="3"/></g></svg>
<svg class="a" style="left:1398px;top:205px" width="72" height="72" viewBox="0 0 29 29"><rect width="29" height="29" fill="#fff"/>
<rect x="2" y="2" width="25" height="25" fill="url(#qr)" transform="rotate(90 14.5 14.5)"/>
<g fill="#fff"><rect x="1" y="1" width="9" height="9"/><rect x="19" y="1" width="9" height="9"/><rect x="1" y="19" width="9" height="9"/></g>
<g fill="#000"><rect x="2" y="2" width="7" height="7"/><rect x="20" y="2" width="7" height="7"/><rect x="2" y="20" width="7" height="7"/></g>
<g fill="#fff"><rect x="3" y="3" width="5" height="5"/><rect x="21" y="3" width="5" height="5"/><rect x="3" y="21" width="5" height="5"/></g>
<g fill="#000"><rect x="4" y="4" width="3" height="3"/><rect x="22" y="4" width="3" height="3"/><rect x="4" y="22" width="3" height="3"/></g></svg>

<svg class="a" style="left:1067.1px;top:304.9px" width="500.9" height="500.9" viewBox="0 0 1568 1568" font-family="Liberation Sans">
<g font-size="36" fill="#333f50"><text x="18" y="52"><tspan font-weight="bold">Key Message</tspan>: FOCUS achieves SOTA accuracy with Qwen-2.5-VL [5] and</text><text x="18" y="107">generalizes to VQA with larger objects.</text></g>
<g stroke="#222"><line x1="16" y1="171" x2="634" y2="171" stroke-width="3"/><line x1="16" y1="237" x2="634" y2="237" stroke-width="2"/><line x1="16" y1="303" x2="634" y2="303" stroke-width="2"/>
<line x1="762" y1="110" x2="1379" y2="110" stroke-width="3"/><line x1="762" y1="184" x2="1379" y2="184" stroke-width="2"/><line x1="762" y1="287" x2="1379" y2="287" stroke-width="2"/><line x1="762" y1="358" x2="1379" y2="358" stroke-width="3"/>
<line x1="18" y1="414" x2="738" y2="414" stroke-width="3"/><line x1="30" y1="455" x2="385" y2="455" stroke-width="1"/><line x1="410" y1="455" x2="560" y2="455" stroke-width="1"/><line x1="585" y1="455" x2="725" y2="455" stroke-width="1"/><line x1="18" y1="520" x2="738" y2="520" stroke-width="1.5"/><line x1="18" y1="585" x2="738" y2="585" stroke-width="1.5"/><line x1="18" y1="625" x2="738" y2="625" stroke-width="1.5"/><line x1="18" y1="690" x2="738" y2="690" stroke-width="2.5"/><line x1="18" y1="779" x2="738" y2="779" stroke-width="3"/></g>
<g font-family="Liberation Serif" font-size="22" fill="#111">
<text x="33" y="212" font-weight="bold">Model</text>
<g text-anchor="middle"><text x="240" y="198" font-weight="bold">V*Bench</text><text x="240" y="224">[%]</text><text x="385" y="198" font-weight="bold">HRBench-4K</text><text x="385" y="224">[%]</text><text x="551" y="198" font-weight="bold">HRBench-8K</text><text x="551" y="224">[%]</text>
<text x="240" y="265">79.06</text><text x="240" y="290" font-weight="bold">90.58</text><text x="385" y="265">71.62</text><text x="385" y="290" font-weight="bold">79.25</text><text x="551" y="265">68.62</text><text x="551" y="290" font-weight="bold">76.25</text></g>
<text x="33" y="265">Qwen-2.5-VL</text><text x="33" y="290">w/ FOCUS</text>
<text x="780" y="169" font-weight="bold">Model</text>
<g text-anchor="middle"><text x="1032" y="140" font-weight="bold">A-OKVQA</text><text x="1263" y="140" font-weight="bold">GQA</text><text x="983" y="169">Acc. [%]</text><text x="1097" y="169">Δ</text><text x="1213" y="169">Acc. [%]</text><text x="1328" y="169">Δ</text>
<text x="983" y="213">77.99</text><text x="983" y="242">60.66</text><text x="983" y="271">74.76</text><text x="983" y="315">91.44</text><text x="983" y="345">91.00</text>
<text x="1097" y="213">-</text><text x="1097" y="242">-17.33</text><text x="1097" y="271">-3.23</text><text x="1097" y="315">-</text><text x="1097" y="345">-0.44</text>
<text x="1213" y="213">61.97</text><text x="1213" y="242">60.98</text><text x="1213" y="271">60.34</text><text x="1213" y="315">62.01</text><text x="1213" y="345">51.02</text>
<text x="1328" y="213">-</text><text x="1328" y="242">-0.99</text><text x="1328" y="271">-1.63</text><text x="1328" y="315">-</text><text x="1328" y="345">-10.99</text></g>
<text x="780" y="213">LLaVA-1.5</text><text x="780" y="242">w/ ViCrop</text><text x="780" y="271">w/ FOCUS</text><text x="780" y="315">LLaVA-OV</text><text x="780" y="345">w/ FOCUS</text>
<g text-anchor="middle"><text x="207" y="441" font-weight="bold">Ablation</text><text x="484" y="441" font-weight="bold">V*Bench</text><text x="655" y="441" font-weight="bold">HRBench-4K</text>
<text x="229" y="481">Object</text><text x="229" y="507">rel. map</text><text x="339" y="481">Proposal</text><text x="339" y="507">ranking</text><text x="438" y="481">Acc.</text><text x="438" y="507">[%] ↑</text><text x="526" y="481">Recall</text><text x="526" y="507">[%] ↑</text><text x="655" y="481">Acc.</text><text x="655" y="507">[%] ↑</text>
<text x="229" y="545">✗</text><text x="339" y="545">✓</text><text x="438" y="545">48.68</text><text x="526" y="545">18.37</text><text x="655" y="545">36.13</text>
<text x="229" y="571">✓</text><text x="339" y="571">✗</text><text x="438" y="571">51.30</text><text x="526" y="571">38.48</text><text x="655" y="571">41.13</text>
<text x="285" y="610">K-K (w/o RoPE)</text><text x="438" y="610">69.10</text><text x="526" y="610">63.47</text><text x="655" y="610">45.63</text>
<text x="285" y="650">0 – 14</text><text x="285" y="676">0 – 32</text><text x="438" y="650">66.49</text><text x="526" y="650">76.17</text><text x="655" y="650">47.38</text><text x="438" y="676">71.20</text><text x="526" y="676">75.56</text><text x="655" y="676">49.38</text>
<g font-weight="bold"><text x="438" y="714">72.77</text><text x="526" y="714">77.49</text><text x="655" y="714">51.75</text></g>
<text x="438" y="740">47.64</text><text x="526" y="740">-</text><text x="655" y="740">36.13</text><text x="438" y="766">35.99</text><text x="526" y="766">-</text><text x="655" y="766">25.00</text></g>
<g font-weight="bold"><text x="33" y="520">Component</text><text x="33" y="610">Pseudo-attn.</text><text x="33" y="664">Layers</text><text x="33" y="714">Original design choice</text></g>
<text x="33" y="740">Vanilla baseline</text><text x="33" y="766">Random guess</text></g>
<g font-size="33" fill="#333f50"><text x="784" y="458" font-weight="bold">Insights:</text>
<text x="784" y="510">•</text><text x="836" y="510">Cached tokens are <tspan font-weight="bold">object-aware</tspan></text><text x="836" y="562">and encode <tspan font-weight="bold">spatial cues</tspan></text>
<text x="784" y="614">•</text><text x="836" y="614"><tspan font-weight="bold">Deeper layers</tspan> yield stronger</text><text x="836" y="666">localization</text>
<text x="784" y="717">•</text><text x="836" y="717"><tspan font-weight="bold">V-V</tspan> pseudo-attention</text><text x="836" y="769">outperforms K-K (w/o RoPE)</text></g>
<text x="3" y="912" font-size="61" font-weight="bold" fill="#000">Qualitative Examples</text>
<g font-family="Liberation Serif" fill="#111">
<text x="18" y="997" font-size="38" font-weight="bold">(I)</text>
<text x="94" y="978" font-size="25"><tspan font-weight="bold">Question:</tspan> What is the color of the <tspan fill="#ed7d31" font-weight="bold">candles</tspan>? (A) red (B) yellow (C) gray (D) white</text>
<text x="94" y="1012" font-size="25"><tspan font-weight="bold">Label:</tspan> B | <tspan font-weight="bold">Answer</tspan> (LLaVA -1.5): D <tspan fill="#e00">✖</tspan> | <tspan font-weight="bold">Answer</tspan> (LLaVA -1.5 <tspan font-style="italic" font-weight="bold">w/ FOCUS</tspan>): B <tspan fill="#3a8a2a">✔</tspan></text>
<g font-size="24" font-weight="bold" text-anchor="middle"><text x="226" y="1076">Original image</text><text x="523" y="1076">GT region</text><text x="831" y="1076">Selected ROI</text><text x="1138" y="1059">Object relevance map</text><text x="1138" y="1091"><tspan fill="#ed7d31">candles</tspan> | Selected: R₃</text></g>
<text x="18" y="1465" font-size="38" font-weight="bold">(II)</text>
<text x="94" y="1433" font-size="25"><tspan font-weight="bold">Question:</tspan> What is the position of the <tspan fill="#ed7d31" font-weight="bold">totem pole</tspan> in relation to the <tspan fill="#e86ee0" font-weight="bold">bear statue</tspan>?</text>
<text x="94" y="1466" font-size="25">(A) To the left (B) To the right (C) Behind the bear statue (D) In front</text>
<text x="94" y="1497" font-size="25"><tspan font-weight="bold">Label:</tspan> A | <tspan font-weight="bold">Answer</tspan> (LLaVA -OneVision): D <tspan fill="#e00">✖</tspan> | <tspan font-weight="bold">Answer</tspan> (LLaVA -OneVision <tspan font-style="italic" font-weight="bold">w/ FOCUS</tspan>): A <tspan fill="#3a8a2a">✔</tspan></text>
<g font-size="24" font-weight="bold" text-anchor="middle"><text x="840" y="1553">Object relevance map</text><text x="1147" y="1553">Object relevance map</text></g></g>
<rect x="97" y="1133" width="258" height="194" fill="url(#warm)"/>
<ellipse cx="226" cy="1290" rx="125" ry="35" fill="#5c6a3a"/>
<rect x="468" y="1104" width="115" height="254" fill="#a8833a"/>
<rect x="478" y="1140" width="45" height="218" rx="12" fill="url(#candle)"/><rect x="527" y="1140" width="45" height="218" rx="12" fill="url(#candle)"/>
<rect x="704" y="1101" width="257" height="256" fill="url(#roi)"/>
<rect x="1009" y="1102" width="258" height="255" fill="url(#hm)"/>
<g fill="none" stroke="#19e6f0" stroke-width="3"><rect x="1010" y="1162" width="20" height="30"/><rect x="1057" y="1150" width="33" height="33"/><rect x="1062" y="1175" width="33" height="30"/><rect x="1100" y="1157" width="33" height="30"/><rect x="1133" y="1152" width="33" height="30"/><rect x="1025" y="1215" width="33" height="30"/><rect x="1058" y="1250" width="33" height="30"/><rect x="1100" y="1258" width="33" height="30"/><rect x="1010" y="1300" width="27" height="33"/></g>
<rect x="1127" y="1128" width="33" height="33" fill="none" stroke="#ed7d31" stroke-width="3"/>
<rect x="1065" y="1155" width="12" height="12" fill="#fde725"/><rect x="1143" y="1162" width="12" height="12" fill="#fde725"/>
<line x1="113" y1="1381" x2="1250" y2="1381" stroke="#111" stroke-width="2" stroke-dasharray="14 5 3 5"/>
</svg>

<!-- qualitative II images -->
<svg class="a" style="left:1067.1px;top:797.1px" width="500.9" height="248.3" viewBox="0 0 1568 1568" preserveAspectRatio="none">
<rect x="98" y="187" width="254" height="511" fill="url(#totem)"/>
<path d="M98 187 L352 187 L352 300 L160 310 Z" fill="#7a4a30"/>
<rect x="222" y="318" width="63" height="113" fill="none" stroke="#e8772c" stroke-width="6"/>
<rect x="291" y="318" width="60" height="317" fill="none" stroke="#e060d0" stroke-width="6"/>
<rect x="405" y="352" width="255" height="178" fill="#6b4e34"/>
<rect x="408" y="396" width="64" height="134" fill="none" stroke="#e8772c" stroke-width="7"/>
<rect x="592" y="355" width="66" height="130" fill="none" stroke="#e060d0" stroke-width="7"/>
<rect x="712" y="193" width="254" height="510" fill="url(#hm)"/>
<rect x="1021" y="193" width="253" height="510" fill="url(#hm)"/>
<g fill="none" stroke="#19e6f0" stroke-width="3"><rect x="857" y="327" width="19" height="34"/><rect x="851" y="403" width="19" height="34"/><rect x="917" y="340" width="19" height="34"/><rect x="932" y="345" width="19" height="34"/><rect x="915" y="390" width="19" height="34"/><rect x="915" y="460" width="19" height="34"/><rect x="945" y="485" width="19" height="34"/><rect x="915" y="545" width="19" height="34"/><rect x="722" y="448" width="19" height="34"/>
<rect x="1227" y="347" width="19" height="34"/><rect x="1247" y="380" width="19" height="34"/><rect x="1224" y="390" width="19" height="34"/><rect x="1217" y="420" width="19" height="34"/><rect x="1224" y="462" width="19" height="34"/><rect x="1252" y="480" width="19" height="34"/><rect x="1240" y="515" width="19" height="34"/><rect x="1255" y="520" width="19" height="34"/><rect x="1224" y="545" width="19" height="34"/></g>
<rect x="854" y="365" width="19" height="34" fill="#c8c040" stroke="#e8772c" stroke-width="3"/>
<rect x="1243" y="345" width="19" height="34" fill="#c8c040" stroke="#e060d0" stroke-width="3"/>
</svg>
<div class="a ser" style="left:1097px;top:803px;width:60px;text-align:center;font-size:7.7px;font-weight:bold;">Original image</div>
<div class="a ser" style="left:1186px;top:803px;width:80px;text-align:center;font-size:7.7px;font-weight:bold;">Combined region</div>
<div class="a ser" style="left:1300px;top:802px;width:130px;text-align:center;font-size:7.7px;font-weight:bold;line-height:11px;"><span style="color:#ed7d31">totem pole</span> | Selected:<br>R<sub style="font-size:5px">0</sub></div>
<div class="a ser" style="left:1398px;top:802px;width:130px;text-align:center;font-size:7.7px;font-weight:bold;line-height:11px;"><span style="color:#e86ee0">bear statue</span> | Selected:<br>R<sub style="font-size:5px">0</sub></div>

<div class="a h" style="left:1068px;top:927px;">References</div>
<div class="a" style="left:1068px;top:955.5px;font-size:6.4px;line-height:10.7px;color:#111;">[1] “V*: Guided Visual Search as a Core Mechanism in Multimodal LLMs.” <span style="color:#6a7c96">In: CVPR 2025 by Wu &amp; Xi</span><br>[2] “Divide, Conquer and Combine: A Training-Free Framework for High-Resolution Image Perception in Multimodal LLMs.” <span style="color:#6a7c96">In: AAAI 2024 by Wang et al.</span><br>[3] “ZoomEye: Enhancing Multimodal LLMs with Human-Like Zooming Capabilities through Tree-Based Image Exploration.” <span style="color:#6a7c96">In: EMNLP 2025 by Shen et al.</span><br>[4] “MLLMs Know Where to Look: Training-free Perception of Small Visual Details with Multimodal LLMs.” <span style="color:#6a7c96">In: ICLR 2025 by Zhang et al.</span><br>[5] “Qwen2.5-VL Technical Report.” <span style="color:#6a7c96">In: arXiv by Bai et al.: https://arxiv.org/abs/2502.13923</span></div>
<div class="a" style="left:1068px;top:1024px;font-size:6.6px;color:#111;">Disclaimer: The results, opinions and conclusions expressed in this publication are not necessarily those of Volkswagen Aktiengesellschaft.</div>

</div></body></html>
